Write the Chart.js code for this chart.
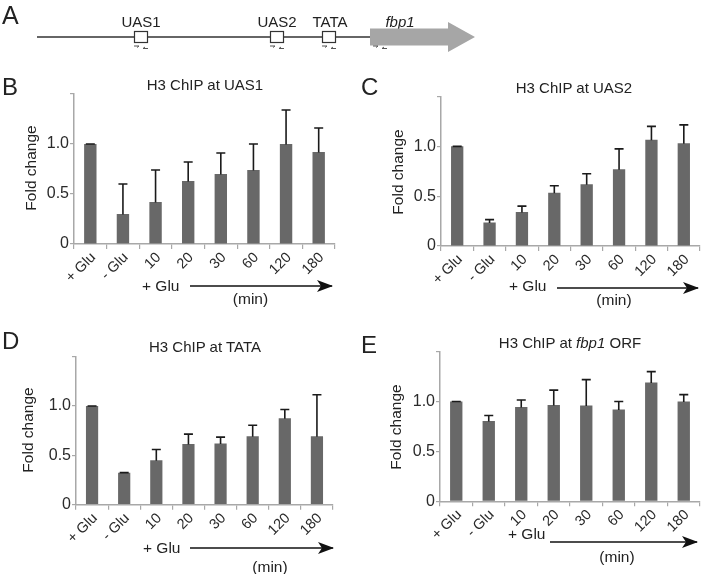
<!DOCTYPE html>
<html><head><meta charset="utf-8">
<script src="https://cdn.jsdelivr.net/npm/chart.js@4"></script>
<style>
html,body{margin:0;padding:0;background:#fff;}
body{width:701px;height:574px;position:relative;overflow:hidden;font-family:"Liberation Sans",Arial,sans-serif;}
canvas{position:absolute;}
#overlay{position:absolute;left:0;top:0;width:701px;height:574px;pointer-events:none;font-family:"Liberation Sans",Arial,sans-serif;}
</style></head><body>
<canvas id="cB" width="350" height="240" style="left:0;top:60px"></canvas>
<canvas id="cC" width="351" height="240" style="left:350px;top:60px"></canvas>
<canvas id="cD" width="350" height="254" style="left:0;top:320px"></canvas>
<canvas id="cE" width="351" height="254" style="left:350px;top:320px"></canvas>
<svg id="overlay" width="701" height="574" xmlns="http://www.w3.org/2000/svg">
  <defs>
    <marker id="ah" markerWidth="16" markerHeight="12" refX="15" refY="6" orient="auto" markerUnits="userSpaceOnUse">
      <path d="M0,0 L16,6 L0,12 L4,6 Z" fill="#111"/>
    </marker>
  </defs>
  <!-- Panel A diagram -->
  <g fill="#222">
    <text x="2" y="24" font-size="25">A</text>
    <text x="141" y="27" font-size="15" text-anchor="middle">UAS1</text>
    <text x="277" y="27" font-size="15" text-anchor="middle">UAS2</text>
    <text x="330" y="27" font-size="15" text-anchor="middle">TATA</text>
    <text x="400" y="27" font-size="15" text-anchor="middle" font-style="italic">fbp1</text>
  </g>
  <line x1="37" y1="37" x2="372" y2="37" stroke="#333" stroke-width="1.5"/>
  <rect x="134.5" y="31.5" width="13" height="11" fill="#fff" stroke="#333" stroke-width="1.2"/>
  <rect x="270.5" y="31.5" width="13" height="11" fill="#fff" stroke="#333" stroke-width="1.2"/>
  <rect x="322.5" y="31.5" width="13" height="11" fill="#fff" stroke="#333" stroke-width="1.2"/>
  <polygon points="370,28.5 448,28.5 448,22 475,37 448,52 448,45.5 370,45.5" fill="#a6a6a6"/>
  <g stroke="#555" stroke-width="1" fill="none">
    <path d="M134 46 H139 l-2 1.5"/><path d="M148 48.5 H143 l2 -1.5"/>
    <path d="M270 46 H275 l-2 1.5"/><path d="M284 48.5 H279 l2 -1.5"/>
    <path d="M322 46 H327 l-2 1.5"/><path d="M336 48.5 H331 l2 -1.5"/>
    <path d="M373 46 H378 l-2 1.5"/><path d="M387 48.5 H382 l2 -1.5"/>
  </g>
  <!-- Panel letters and titles -->
  <g fill="#222">
    <text x="2" y="95" font-size="24">B</text>
    <text x="361" y="95" font-size="24">C</text>
    <text x="2" y="349" font-size="24">D</text>
    <text x="361" y="353" font-size="24">E</text>
    <text x="205" y="90" font-size="15" text-anchor="middle">H3 ChIP at UAS1</text>
    <text x="574" y="93" font-size="15" text-anchor="middle">H3 ChIP at UAS2</text>
    <text x="205" y="352" font-size="15" text-anchor="middle">H3 ChIP at TATA</text>
    <text x="570" y="348" font-size="15" text-anchor="middle">H3 ChIP at <tspan font-style="italic">fbp1</tspan> ORF</text>
    <text x="30.5" y="168" font-size="15.5" text-anchor="middle" dominant-baseline="central" transform="rotate(-90 30.5 168)">Fold change</text>
    <text x="397" y="172" font-size="15.5" text-anchor="middle" dominant-baseline="central" transform="rotate(-90 397 172)">Fold change</text>
    <text x="27.5" y="430" font-size="15.5" text-anchor="middle" dominant-baseline="central" transform="rotate(-90 27.5 430)">Fold change</text>
    <text x="395" y="427" font-size="15.5" text-anchor="middle" dominant-baseline="central" transform="rotate(-90 395 427)">Fold change</text>
    <text x="142" y="291" font-size="15.5">+ Glu</text>
    <text x="509" y="291" font-size="15.5">+ Glu</text>
    <text x="143" y="553" font-size="15.5">+ Glu</text>
    <text x="508" y="539" font-size="15.5">+ Glu</text>
    <text x="250.5" y="304" font-size="15.5" text-anchor="middle">(min)</text>
    <text x="614" y="305" font-size="15.5" text-anchor="middle">(min)</text>
    <text x="270" y="572" font-size="15.5" text-anchor="middle">(min)</text>
    <text x="617" y="562" font-size="15.5" text-anchor="middle">(min)</text>
  </g>
  <g stroke="#111" stroke-width="1.5">
    <line x1="190" y1="286" x2="332" y2="286" marker-end="url(#ah)"/>
    <line x1="557" y1="288" x2="698" y2="288" marker-end="url(#ah)"/>
    <line x1="190" y1="548" x2="333" y2="548" marker-end="url(#ah)"/>
    <line x1="550" y1="542" x2="697" y2="542" marker-end="url(#ah)"/>
  </g>
</svg>
<script>
// ---- Data ----
const categories = ['+ Glu', '- Glu', '10', '20', '30', '60', '120', '180'];
const yTickValues = [0, 0.5, 1.0, 1.5];
const yTickLabels = ['0', '0.5', '1.0', ''];

const uas1Values = [1.00, 0.30, 0.42, 0.63, 0.70, 0.74, 1.00, 0.92];
const uas1Errors = [0.00, 0.30, 0.32, 0.19, 0.21, 0.26, 0.34, 0.24];

const uas2Values = [1.00, 0.235, 0.34, 0.535, 0.62, 0.77, 1.065, 1.03];
const uas2Errors = [0.00, 0.03, 0.06, 0.07, 0.105, 0.205, 0.135, 0.185];

const tataValues = [1.00, 0.325, 0.45, 0.615, 0.62, 0.695, 0.875, 0.695];
const tataErrors = [0.00, 0.00, 0.11, 0.10, 0.065, 0.11, 0.09, 0.42];

const orfValues = [1.00, 0.805, 0.945, 0.965, 0.96, 0.92, 1.19, 1.00];
const orfErrors = [0.00, 0.055, 0.07, 0.15, 0.26, 0.08, 0.11, 0.07];

// ---- Styling ----
const BAR = '#686868';
const AXIS = '#a8a8a8';
const TXT = '#2a2a2a';
const FONT = '"Liberation Sans", Arial, sans-serif';

const errorBarPlugin = {
  id: 'errorBars',
  afterDatasetsDraw(chart) {
    const ctx = chart.ctx;
    const yScale = chart.scales.y;
    chart.data.datasets.forEach((ds, di) => {
      const meta = chart.getDatasetMeta(di);
      const errs = ds.errors || [];
      meta.data.forEach((bar, i) => {
        const v = ds.data[i], e = errs[i];
        if (e == null) return;
        const yBar = yScale.getPixelForValue(v);
        const yTop = yScale.getPixelForValue(v + e);
        ctx.save();
        ctx.strokeStyle = '#1a1a1a';
        ctx.lineWidth = 1.6;
        ctx.beginPath();
        ctx.moveTo(bar.x, yBar + 0.5);
        ctx.lineTo(bar.x, yTop);
        ctx.moveTo(bar.x - 4.5, yTop);
        ctx.lineTo(bar.x + 4.5, yTop);
        ctx.stroke();
        ctx.restore();
      });
    });
  }
};

function makeChart(id, values, errors, g) {
  return new Chart(document.getElementById(id), {
    type: 'bar',
    data: {
      labels: categories,
      datasets: [{
        data: values, errors: errors,
        backgroundColor: BAR, borderWidth: 0,
        barPercentage: 0.38, categoryPercentage: 1
      }]
    },
    options: {
      responsive: false, animation: false, devicePixelRatio: 1,
      layout: { padding: { left: 0, top: g.padTop, right: g.padRight, bottom: 0 } },
      plugins: { legend: { display: false }, tooltip: { enabled: false }, title: { display: false } },
      scales: {
        x: {
          offset: true,
          grid: { display: true, drawOnChartArea: false, drawTicks: true, tickLength: 5, color: AXIS, lineWidth: 1.2, offset: true },
          border: { color: AXIS, width: 1.5 },
          ticks: { autoSkip: false, maxRotation: 45, minRotation: 45, padding: 0, labelOffset: 3, color: TXT, font: { family: FONT, size: 14.5 } },
          afterFit(s) { s.height = g.xHeight; }
        },
        y: {
          min: 0, max: 1.5,
          afterBuildTicks(s) { s.ticks = yTickValues.map(v => ({ value: v })); },
          grid: { display: true, drawOnChartArea: false, drawTicks: true, tickLength: 4, color: AXIS, lineWidth: 1.2 },
          border: { color: AXIS, width: 1.5 },
          ticks: { padding: 1, color: TXT, font: { family: FONT, size: 16 },
            callback(v) { const k = yTickValues.indexOf(v); return k >= 0 ? yTickLabels[k] : ''; } },
          afterFit(s) { s.width = g.yWidth; }
        }
      }
    },
    plugins: [errorBarPlugin]
  });
}

makeChart('cB', uas1Values, uas1Errors, { padTop: 34, padRight: 15, yWidth: 74, xHeight: 56 });
makeChart('cC', uas2Values, uas2Errors, { padTop: 36.5, padRight: 1, yWidth: 91, xHeight: 54 });
makeChart('cD', tataValues, tataErrors, { padTop: 36.7, padRight: 17, yWidth: 76, xHeight: 69.3 });
makeChart('cE', orfValues, orfErrors, { padTop: 31.7, padRight: 1, yWidth: 90, xHeight: 72.7 });
</script>
</body></html>
